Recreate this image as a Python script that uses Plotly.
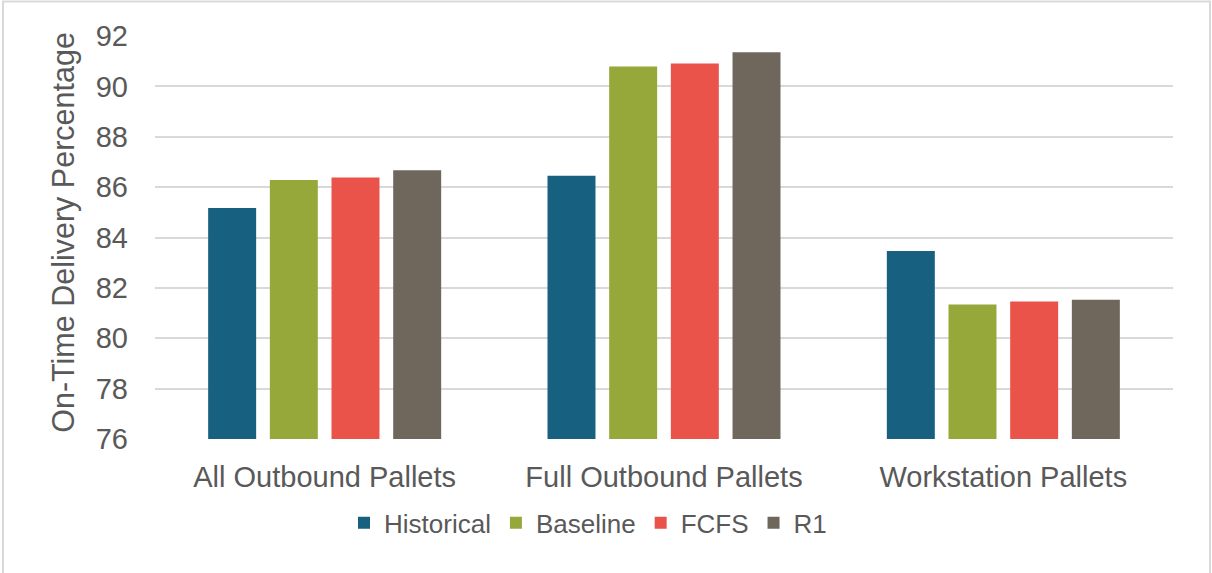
import plotly.graph_objects as go

categories = ["All Outbound Pallets", "Full Outbound Pallets", "Workstation Pallets"]
series_names = ["Historical", "Baseline", "FCFS", "R1"]
historical = [85.17, 86.45, 83.46]
baseline = [86.28, 90.79, 81.34]
fcfs = [86.38, 90.91, 81.46]
r1 = [86.67, 91.35, 81.53]
colors = ["#17607F", "#97A83B", "#EA5349", "#6F675B"]
y_ticks = [76, 78, 80, 82, 84, 86, 88, 90, 92]

W, H = 1212, 573
L, R, T, B = 155, 39, 35.5, 134
pw, ph = W - L - R, H - T - B

def px_x(x):
    return (x - L) / pw

def px_y(y):
    return (H - B - y) / ph

fig = go.Figure()
for name, vals, col in zip(series_names, [historical, baseline, fcfs, r1], colors):
    fig.add_trace(go.Bar(name=name, x=categories, y=vals, marker=dict(color=col, line=dict(width=0))))

font = "Liberation Sans, Arial, sans-serif"
txt = "#595959"
fig.update_layout(
    width=W, height=H,
    margin=dict(l=L, r=R, t=T, b=B, autoexpand=False),
    paper_bgcolor="white", plot_bgcolor="white",
    barmode="group", bargap=0.273, bargroupgap=0.222,
    font=dict(family=font, size=28, color=txt),
    showlegend=True,
    legend=dict(orientation="h", x=px_x(588), xanchor="center", y=px_y(523), yanchor="middle",
                font=dict(size=26, color=txt), itemwidth=30, tracegroupgap=0,
                bgcolor="rgba(0,0,0,0)"),
    xaxis=dict(showgrid=False, showline=False, ticks="", tickfont=dict(size=29, color=txt),
               ticklabelstandoff=18),
    yaxis=dict(range=[76, 92], tickvals=y_ticks, showgrid=True, gridcolor="#D9D9D9", gridwidth=1.5,
               zeroline=False, showline=False, ticks="", tickfont=dict(size=29, color=txt),
               ticklabelstandoff=26),
    annotations=[dict(text="On-Time Delivery Percentage", xref="paper", yref="paper",
                      x=px_x(64), y=px_y(232.5), xanchor="center", yanchor="middle",
                      textangle=-90, showarrow=False, font=dict(size=30.5, color=txt))],
    shapes=[dict(type="rect", xref="paper", yref="paper",
                 x0=px_x(3), x1=px_x(1210), y0=px_y(585), y1=px_y(1),
                 line=dict(color="#D9D9D9", width=2), fillcolor="rgba(0,0,0,0)", layer="below")],
)

fig.write_html("out.html", config={"displayModeBar": False},
               post_script="document.body.style.margin='0';document.body.style.overflow='hidden';")
